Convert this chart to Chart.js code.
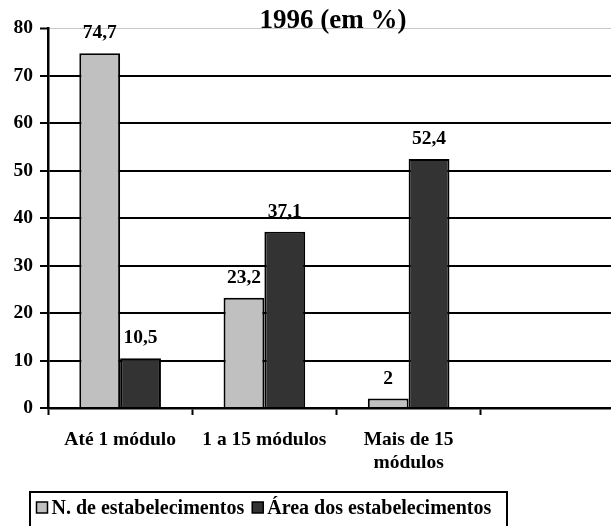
<!DOCTYPE html>
<html><head><meta charset="utf-8">
<script src="https://cdn.jsdelivr.net/npm/chart.js@4/dist/chart.umd.min.js"></script>
<style>html,body{margin:0;padding:0;background:#fff;overflow:hidden}
#wrap{width:611px;height:526px;overflow:hidden}
canvas{display:block}
</style></head><body><div id="wrap"><canvas id="c" width="628" height="526"></canvas></div>
<script>
const categories = ['Até 1 módulo', '1 a 15 módulos', ['Mais de 15', 'módulos'], ''];
const seriesNames = ['N. de estabelecimentos', 'Área dos estabelecimentos'];
const nEstabelecimentos = [74.7, 23.2, 2, null];
const areaEstabelecimentos = [10.5, 37.1, 52.4, null];
const seriesColors = ['#c0c0c0', '#333333'];
const yMin = 0, yMax = 80, yStep = 10;
const titleText = '1996 (em %)';
const FONT = '"Liberation Serif", "Times New Roman", serif';
const FS = 19.5;

const fmt = v => String(v).replace('.', ',');

const valueLabels = {
  id: 'valueLabels',
  afterDatasetsDraw(chart) {
    const ctx = chart.ctx;
    ctx.save();
    ctx.font = 'bold ' + FS + 'px ' + FONT;
    ctx.fillStyle = '#000';
    ctx.textAlign = 'center';
    ctx.textBaseline = 'alphabetic';
    chart.data.datasets.forEach((ds, i) => {
      chart.getDatasetMeta(i).data.forEach((el, j) => {
        const v = ds.data[j];
        if (v === null || v === undefined) return;
        ctx.fillText(fmt(v), el.x, el.y - 15);
      });
    });
    ctx.restore();
  }
};

const titleAndLegend = {
  id: 'titleAndLegend',
  afterDraw(chart) {
    const ctx = chart.ctx;
    ctx.save();
    ctx.fillStyle = '#000';
    ctx.font = 'bold 27px ' + FONT;
    ctx.textAlign = 'center';
    ctx.textBaseline = 'alphabetic';
    ctx.fillText(titleText, 333, 28);
    // legend
    ctx.lineWidth = 2;
    ctx.strokeStyle = '#000';
    ctx.strokeRect(30, 492, 477, 50);
    ctx.font = 'bold 20px ' + FONT;
    ctx.textAlign = 'left';
    let x = 36.5;
    chart.data.datasets.forEach((ds) => {
      ctx.fillStyle = ds.backgroundColor;
      ctx.fillRect(x, 502, 11, 11);
      ctx.lineWidth = 1.5;
      ctx.strokeRect(x, 502, 11, 11);
      ctx.fillStyle = '#000';
      ctx.fillText(ds.label, x + 15, 513.5);
      x += 15 + ctx.measureText(ds.label).width + 8;
    });
    ctx.restore();
  }
};

new Chart(document.getElementById('c'), {
  type: 'bar',
  data: {
    labels: categories,
    datasets: [
      { label: seriesNames[0], data: nEstabelecimentos, backgroundColor: seriesColors[0], borderColor: '#000', borderWidth: 2 },
      { label: seriesNames[1], data: areaEstabelecimentos, backgroundColor: seriesColors[1], borderColor: '#000', borderWidth: 2 }
    ]
  },
  options: {
    responsive: false,
    animation: false,
    devicePixelRatio: 1,
    datasets: { bar: { categoryPercentage: 0.566, barPercentage: 1.0 } },
    layout: { padding: { top: 28, left: 0, right: 3, bottom: 58 } },
    plugins: { legend: { display: false }, title: { display: false }, tooltip: { enabled: false } },
    scales: {
      x: {
        grid: { drawOnChartArea: false, drawTicks: true, tickLength: 7, tickColor: '#000', tickWidth: 2, offset: true },
        border: { display: true, color: '#000', width: 2.5 },
        ticks: { color: '#000', font: { family: FONT, weight: 'bold', size: FS, lineHeight: 1.2 }, padding: 13, maxRotation: 0, autoSkip: false },
        afterFit: s => { s.height = 60; }
      },
      y: {
        min: yMin, max: yMax,
        ticks: { stepSize: yStep, color: '#000', font: { family: FONT, weight: 'bold', size: FS }, padding: 7 },
        grid: {
          color: c => (c.tick && c.tick.value === yMax) ? '#c8c8c8' : '#000',
          lineWidth: c => (c.tick && c.tick.value === yMax) ? 1 : 2,
          tickColor: '#000', tickWidth: 2, tickLength: 8
        },
        border: { display: true, color: '#000', width: 2.5 },
        afterFit: s => { s.width = 48; }
      }
    }
  },
  plugins: [valueLabels, titleAndLegend]
});
</script></body></html>
